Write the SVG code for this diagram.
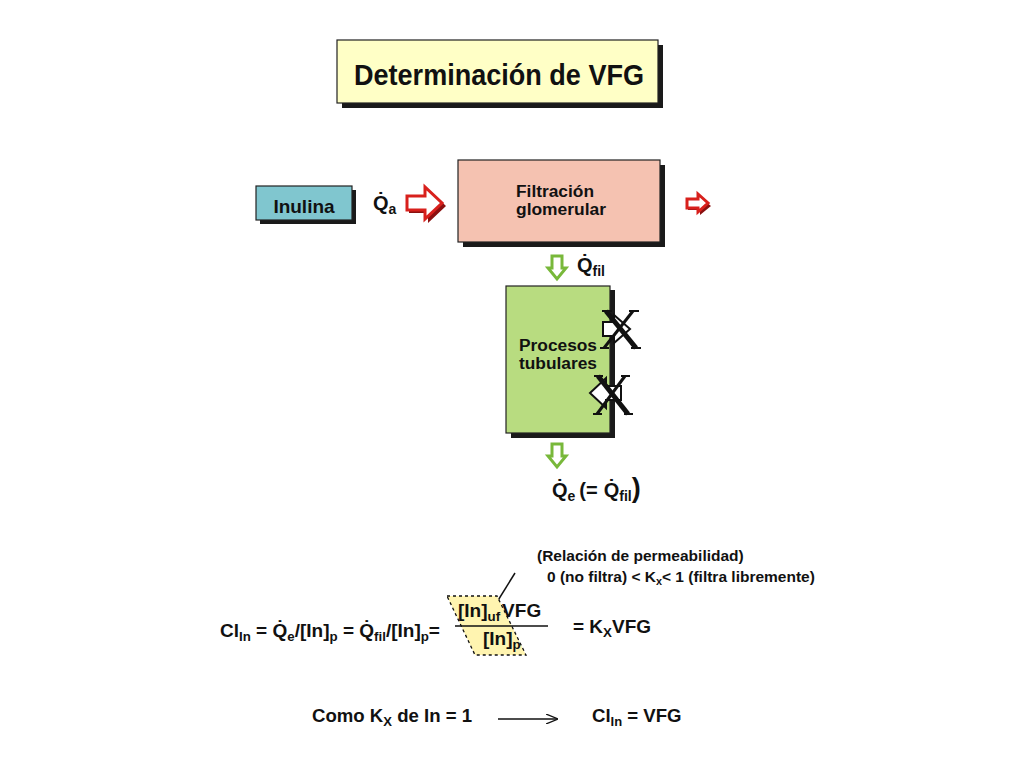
<svg xmlns="http://www.w3.org/2000/svg" width="1024" height="768" viewBox="0 0 1024 768">
<style>
text{font-family:"Liberation Sans",Arial,sans-serif;font-weight:bold;fill:#111}
.box{stroke:#222;stroke-width:1.2}
.sh{fill:#1a1a1a}
.red{fill:#fff;stroke:#d8201c;stroke-width:3;stroke-linejoin:miter}
.redsh{fill:#8a1010}
.grn{fill:#fff;stroke:#78b83a;stroke-width:3}
.hol{fill:#fff;stroke:#111;stroke-width:2}
.xk{stroke:#111;stroke-linecap:butt}
.sub{font-size:70%}
</style>
<defs>
<marker id="ah" markerWidth="12" markerHeight="10" refX="11" refY="5" orient="auto" markerUnits="userSpaceOnUse">
<path d="M0,0 L12,5 L0,10" fill="none" stroke="#111" stroke-width="1.3"/>
</marker>
</defs>

<g id="title">
<rect class="sh" x="342" y="45" width="321" height="63"/>
<rect class="box" x="337" y="40" width="321" height="63" fill="#ffffc6"/>
<text x="354" y="85" font-size="30" textLength="290" lengthAdjust="spacingAndGlyphs">Determinación de VFG</text>
</g>

<g id="inulina">
<rect class="sh" x="260" y="190" width="96" height="34"/>
<rect class="box" x="256" y="186" width="96" height="34" fill="#80c6cf"/>
<text x="304" y="213" font-size="19" text-anchor="middle">Inulina</text>
</g>

<g id="qa">
<text x="373" y="210" font-size="20">Q̇<tspan class="sub" dy="4">a</tspan></text>
</g>

<g id="filtracion">
<rect class="sh" x="463" y="165" width="202" height="82"/>
<rect class="box" x="458" y="160" width="202" height="82" fill="#f5c2b1"/>
<text x="516" y="197" font-size="16" textLength="78" lengthAdjust="spacingAndGlyphs">Filtración</text>
<text x="516" y="215" font-size="16" textLength="90" lengthAdjust="spacingAndGlyphs">glomerular</text>
</g>

<g id="procesos">
<rect class="sh" x="511" y="290" width="104" height="148"/>
<rect class="box" x="506" y="286" width="104" height="147" fill="#b8dc80"/>
<text x="519" y="351" font-size="16" textLength="78" lengthAdjust="spacingAndGlyphs">Procesos</text>
<text x="519" y="369" font-size="16" textLength="78" lengthAdjust="spacingAndGlyphs">tubulares</text>
</g>

<g id="qfil">
<text x="577" y="272" font-size="20">Q̇<tspan class="sub" dy="4">fil</tspan></text>
</g>

<g id="qe">
<text x="552" y="497" font-size="20">Q̇<tspan class="sub" dy="4">e</tspan><tspan dy="-4" dx="4">(=</tspan><tspan dx="6">Q̇</tspan><tspan class="sub" dy="4">fil</tspan><tspan dy="-4" font-size="27">)</tspan></text>
</g>

<g id="blocked-out">
<polygon class="hol" points="603,322 614,322 614,315 630,329 614,343 614,336 603,336"/>
<line class="xk" x1="606" y1="311" x2="636" y2="348" stroke-width="5"/>
<line class="xk" x1="633" y1="311" x2="604" y2="348" stroke-width="3"/>
<line class="xk" x1="602" y1="311" x2="612" y2="311" stroke-width="2"/>
<line class="xk" x1="629" y1="311" x2="639" y2="311" stroke-width="2"/>
<line class="xk" x1="600" y1="348" x2="609" y2="348" stroke-width="2"/>
<line class="xk" x1="631" y1="348" x2="641" y2="348" stroke-width="2"/>
</g>

<g id="blocked-in">
<polygon class="hol" points="621,386 606,386 606,378 590,393 606,408 606,400 621,400"/>
<line class="xk" x1="598" y1="376" x2="628" y2="414" stroke-width="5"/>
<line class="xk" x1="625" y1="376" x2="597" y2="414" stroke-width="3"/>
<line class="xk" x1="594" y1="376" x2="603" y2="376" stroke-width="2"/>
<line class="xk" x1="621" y1="376" x2="630" y2="376" stroke-width="2"/>
<line class="xk" x1="593" y1="414" x2="602" y2="414" stroke-width="2"/>
<line class="xk" x1="624" y1="414" x2="633" y2="414" stroke-width="2"/>
</g>

<g id="connectors">
<polygon class="redsh" points="409,199 428,199 428,189 446,206 428,223 428,213 409,213"/>
<polygon class="red" points="407,196 425,196 425,187 442,203 425,219 425,210 407,210"/>
<polygon class="redsh" points="688,202 700,202 700,197 711,206 700,215 700,210 688,210"/>
<polygon class="red" points="687,199 698,199 698,194 708,203 698,212 698,208 687,208"/>
<polygon class="grn" points="552,256 562,256 562,268 566,268 557,279 548,268 552,268"/>
<polygon class="grn" points="552,444 562,444 562,456 566,456 557,467 548,456 552,456"/>
<line x1="498" y1="719" x2="557" y2="719" stroke="#111" stroke-width="1.5" marker-end="url(#ah)"/>
<line x1="515" y1="573" x2="497" y2="602" stroke="#111" stroke-width="1.5"/>
</g>

<g id="kx-note">
<text x="537" y="561" font-size="15.5">(Relación de permeabilidad)</text>
<text x="547" y="582" font-size="15.5">0 (no filtra) &lt; K<tspan class="sub" dy="3">x</tspan><tspan dy="-3">&lt; 1 (filtra libremente)</tspan></text>
</g>

<g id="equation">
<polygon points="447,596 497,596 526,655 475,655" fill="#fff4b0" stroke="#111" stroke-width="1.3" stroke-dasharray="3,3"/>
<text x="220" y="637" font-size="19">Cl<tspan class="sub" dy="4">In</tspan><tspan dy="-4"> = Q̇</tspan><tspan class="sub" dy="4">e</tspan><tspan dy="-4">/[In]</tspan><tspan class="sub" dy="4">p</tspan><tspan dy="-4"> = Q̇</tspan><tspan class="sub" dy="4">fil</tspan><tspan dy="-4">/[In]</tspan><tspan class="sub" dy="4">p</tspan><tspan dy="-4">=</tspan></text>
<text x="458" y="617" font-size="19">[In]<tspan class="sub" dy="4">uf</tspan><tspan dy="-4" dx="2">VFG</tspan></text>
<line x1="455" y1="626" x2="548" y2="626" stroke="#111" stroke-width="1.3"/>
<text x="483" y="645" font-size="19">[In]<tspan class="sub" dy="4">p</tspan></text>
<text x="573" y="633" font-size="19">= K<tspan class="sub" dy="4">X</tspan><tspan dy="-4">VFG</tspan></text>
</g>

<g id="conclusion">
<text x="312" y="722" font-size="18.6">Como K<tspan class="sub" dy="4">X</tspan><tspan dy="-4"> de In = 1</tspan></text>
<text x="592" y="722" font-size="18.6">Cl<tspan class="sub" dy="4">In</tspan><tspan dy="-4"> = VFG</tspan></text>
</g>
</svg>
